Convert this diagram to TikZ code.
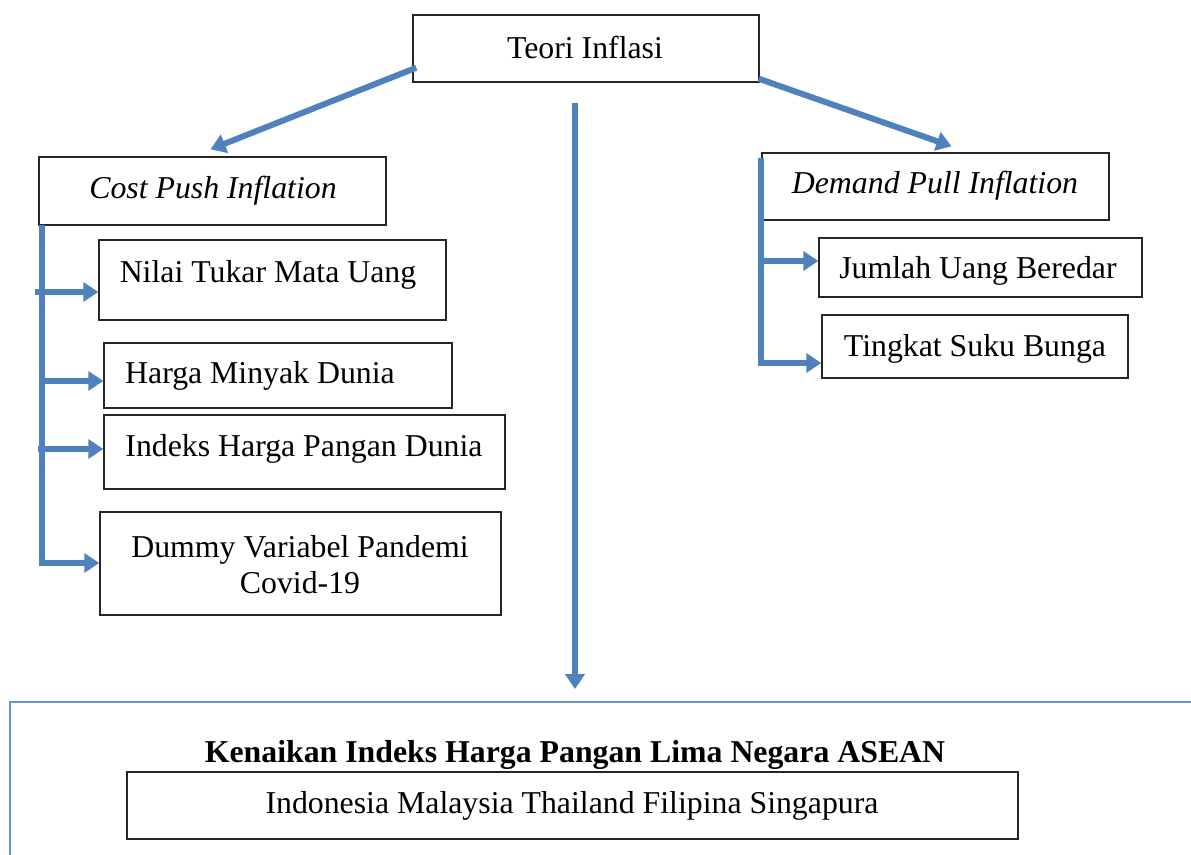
\documentclass[tikz,border=0pt]{standalone}
\usepackage{fontspec}
\setmainfont{Liberation Serif}
\usetikzlibrary{arrows.meta,fit}
\definecolor{arrowblue}{HTML}{4F81BD}
\tikzset{
  box/.style={draw=black!85, line width=0.7pt, inner sep=0pt},
  txt/.style={inner sep=0pt, font=\fontsize{15.9}{18}\selectfont, align=center},
  flow/.style={draw=arrowblue, line width=3pt, -{Triangle[length=7.5pt,width=9.5pt]}},
}
\begin{document}
\begin{tikzpicture}[x=0.5pt,y=-0.5pt]
\useasboundingbox (0,0) rectangle (1191,855);
% top and the two branches
\node[box, fit={(413,15) (759,82)}] (teori) {};
\node[txt] (tTeori) at (585,47) {Teori Inflasi};
\node[box, fit={(39,157) (386,225)}] (cost) {};
\node[txt] (tCost) at (213,191) {\itshape Cost Push Inflation};
\node[box, fit={(762,153) (1109,220)}] (demand) {};
\node[txt] (tDemand) at (935,186) {\itshape Demand Pull Inflation};
% cost push factors
\node[box, fit={(99,240) (446,320)}] (nilai) {};
\node[txt] (tNilai) at (268,275) {Nilai Tukar Mata Uang};
\node[box, fit={(104,343) (452,408)}] (minyak) {};
\node[txt] (tMinyak) at (260,376) {Harga Minyak Dunia};
\node[box, fit={(104,415) (505,489)}] (pangan) {};
\node[txt] (tPangan) at (304,449) {Indeks Harga Pangan Dunia};
\node[box, fit={(100,512) (501,615)}] (dummy) {};
\node[txt] (tDummy) at (300,565) {Dummy Variabel Pandemi\\Covid-19};
% demand pull factors
\node[box, fit={(819,238) (1142,297)}] (jumlah) {};
\node[txt] (tJumlah) at (978,271) {Jumlah Uang Beredar};
\node[box, fit={(822,315) (1128,378)}] (bunga) {};
\node[txt] (tBunga) at (975,349) {Tingkat Suku Bunga};
% result
\node[draw=arrowblue!85, line width=0.9pt, inner sep=0pt, fit={(10,702) (1260,920)}] (hasil) {};
\node[txt] (tHasil) at (575,755) {\bfseries Kenaikan Indeks Harga Pangan Lima Negara ASEAN};
\node[box, fit={(127,772) (1018,839)}] (negara) {};
\node[txt] (tNegara) at (572,806) {Indonesia Malaysia Thailand Filipina Singapura};

% arrows
\draw[flow] ([shift={(4,-15)}]teori.south west) -- ([shift={(-2,-7)}]cost.north);
\draw[flow] ([shift={(-1,-4)}]teori.south east) -- ([shift={(16,-6)}]demand.north);
\coordinate (turun) at (575,103);
\draw[flow] (turun) -- (turun |- hasil.north) [shorten >=6pt];
% cost push bracket
\coordinate (cpTop) at (42,225);
\coordinate (cpBot) at (42,563);
\coordinate (cp1) at (35,292);
\coordinate (cp2) at (42,381);
\coordinate (cp3) at (38,449);
\draw[flow] (cpTop) -- (cpBot) -- (cpBot -| dummy.west);
\draw[flow] (cp1) -- (cp1 -| nilai.west);
\draw[flow] (cp2) -- (cp2 -| minyak.west);
\draw[flow] (cp3) -- (cp3 -| pangan.west);
% demand pull bracket
\coordinate (dpTop) at (761,158);
\coordinate (dpBot) at (761,363);
\coordinate (dp1) at (761,261);
\draw[flow] (dpTop) -- (dpBot) -- (dpBot -| bunga.west);
\draw[flow] (dp1) -- (dp1 -| jumlah.west);
\end{tikzpicture}
\end{document}
